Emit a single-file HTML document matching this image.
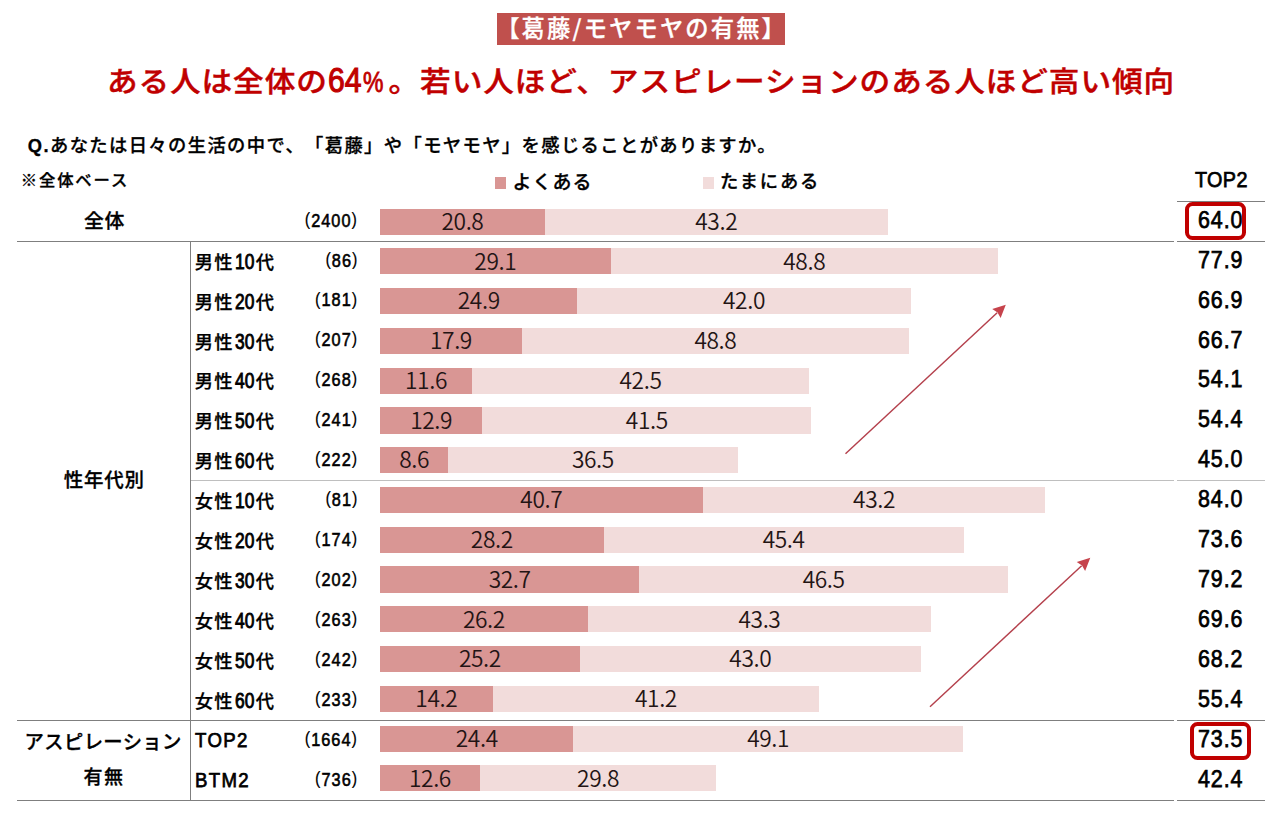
<!DOCTYPE html>
<html lang="ja"><head><meta charset="utf-8">
<style>
*{margin:0;padding:0;box-sizing:border-box}
html,body{width:1280px;height:816px;overflow:hidden;background:#fff}
body{position:relative;font-family:"Liberation Sans","Noto Sans CJK JP",sans-serif;color:#000}
div{position:absolute;white-space:nowrap}
.tx{line-height:1;font-weight:700;font-family:"Liberation Sans","Noto Sans CJK JP",sans-serif;text-spacing-trim:space-all}
.lat{font-family:"Liberation Sans","Noto Sans CJK JP",sans-serif}
.tbox{left:497px;top:13.3px;width:288.3px;height:31.3px;background:#c0504d}
.bd{height:26.2px;background:#d99694}
.bl{height:26.2px;background:#f2dcdb}
.v{text-align:center;font-family:'Noto Sans CJK JP',sans-serif;font-weight:350;font-size:22.74px;letter-spacing:-0.387px;color:#231414;transform-origin:50% 0;padding-left:0.00px}
.nm{font-family:'Liberation Sans','Noto Sans CJK JP',sans-serif;font-weight:500;-webkit-text-stroke-width:0.25px;font-size:18.3px;letter-spacing:1.020px;}
.nmE{font-family:'Liberation Sans',sans-serif;font-weight:400;-webkit-text-stroke:0.75px #000;font-size:20.7px;letter-spacing:1.490px;transform:scale(0.9,1.0);transform-origin:0 0;}
.n{text-align:right;font-family:'Liberation Sans',sans-serif;font-weight:400;-webkit-text-stroke:0.6px #000;font-size:18.94px;letter-spacing:1.210px;transform:scale(0.86,1.0);transform-origin:0 0;transform-origin:100% 0}
.p{position:relative;top:-0.1em;-webkit-text-stroke-width:0.15px}
.hd{display:inline-block;font-weight:400;-webkit-text-stroke-width:1.2px;font-size:1.2em;line-height:0;letter-spacing:0;transform:scaleX(0.82);transform-origin:0 0;margin-right:-0.2em}
.pc{display:inline-block;font-weight:400;-webkit-text-stroke-width:0.9px;line-height:0;letter-spacing:0;transform:scaleX(0.75);transform-origin:0 0;margin-left:0.05em;margin-right:-0.05em}
.dg{display:inline-block;font-weight:400;-webkit-text-stroke-width:0.9px;font-size:1.19em;line-height:0;letter-spacing:0;transform:scaleX(0.8);transform-origin:0 0;margin-left:0.09em;margin-right:-0.18em}
.lb{font-weight:700}
.jf{font-family:'Noto Sans CJK JP',sans-serif}
.t{font-family:'Liberation Sans',sans-serif;font-weight:400;-webkit-text-stroke:0.75px #000;font-size:24.65px;letter-spacing:1.060px;transform:scale(0.87,1.0);transform-origin:0 0;}
.hl{height:1px;background:#7f7f7f}

</style></head><body>
<div class="tbox"></div>
<div style="left:495.2px;top:177.2px;width:11px;height:11.8px;background:#d99694"></div>
<div style="left:703px;top:177.2px;width:11px;height:11.8px;background:#f2dcdb"></div>
<div class="bd" style="left:380.00px;top:208.50px;width:164.94px"></div>
<div class="bl" style="left:544.94px;top:208.50px;width:342.58px"></div>
<div class="bd" style="left:380.00px;top:248.27px;width:230.76px"></div>
<div class="bl" style="left:610.76px;top:248.27px;width:386.98px"></div>
<div class="bd" style="left:380.00px;top:288.04px;width:197.46px"></div>
<div class="bl" style="left:577.46px;top:288.04px;width:333.06px"></div>
<div class="bd" style="left:380.00px;top:327.81px;width:141.95px"></div>
<div class="bl" style="left:521.95px;top:327.81px;width:386.98px"></div>
<div class="bd" style="left:380.00px;top:367.58px;width:91.99px"></div>
<div class="bl" style="left:471.99px;top:367.58px;width:337.02px"></div>
<div class="bd" style="left:380.00px;top:407.35px;width:102.30px"></div>
<div class="bl" style="left:482.30px;top:407.35px;width:329.09px"></div>
<div class="bd" style="left:380.00px;top:447.12px;width:68.20px"></div>
<div class="bl" style="left:448.20px;top:447.12px;width:289.44px"></div>
<div class="bd" style="left:380.00px;top:486.89px;width:322.75px"></div>
<div class="bl" style="left:702.75px;top:486.89px;width:342.58px"></div>
<div class="bd" style="left:380.00px;top:526.66px;width:223.63px"></div>
<div class="bl" style="left:603.63px;top:526.66px;width:360.02px"></div>
<div class="bd" style="left:380.00px;top:566.43px;width:259.31px"></div>
<div class="bl" style="left:639.31px;top:566.43px;width:368.75px"></div>
<div class="bd" style="left:380.00px;top:606.20px;width:207.77px"></div>
<div class="bl" style="left:587.77px;top:606.20px;width:343.37px"></div>
<div class="bd" style="left:380.00px;top:645.97px;width:199.84px"></div>
<div class="bl" style="left:579.84px;top:645.97px;width:340.99px"></div>
<div class="bd" style="left:380.00px;top:685.74px;width:112.61px"></div>
<div class="bl" style="left:492.61px;top:685.74px;width:326.72px"></div>
<div class="bd" style="left:380.00px;top:725.51px;width:193.49px"></div>
<div class="bl" style="left:573.49px;top:725.51px;width:389.36px"></div>
<div class="bd" style="left:380.00px;top:765.28px;width:99.92px"></div>
<div class="bl" style="left:479.92px;top:765.28px;width:236.31px"></div>
<div class="tx " style="left:496.16px;top:16.24px;font-family:'Liberation Sans','Noto Sans CJK JP',sans-serif;font-weight:500;-webkit-text-stroke-width:0.3px;font-size:23.3px;letter-spacing:2.125px;color:#fff;">【葛藤<span class=jf>/</span>モヤモヤの有無】</div>
<div class="tx " style="left:106.94px;top:68.07px;font-family:'Liberation Sans','Noto Sans CJK JP',sans-serif;font-weight:500;-webkit-text-stroke-width:0.45px;font-size:30.63px;letter-spacing:0.921px;transform:scale(1.0,0.935);transform-origin:0 0;color:#c00000;">ある人は全体の<span class=hd>64</span><span class=pc>%</span>。若い人ほど、アスピレーションのある人ほど高い傾向</div>
<div class="tx " style="left:27.85px;top:137.40px;font-family:'Liberation Sans','Noto Sans CJK JP',sans-serif;font-weight:500;-webkit-text-stroke-width:0.3px;font-size:18.3px;letter-spacing:1.399px;"><span class=lb>Q.</span>あなたは日々の生活の中で、「葛藤」や「モヤモヤ」を感じることがありますか。</div>
<div class="tx " style="left:20.71px;top:171.92px;font-family:'Liberation Sans','Noto Sans CJK JP',sans-serif;font-weight:500;-webkit-text-stroke-width:0.3px;font-size:16.38px;letter-spacing:1.860px;">※全体ベース</div>
<div class="tx " style="left:512.49px;top:173.08px;font-family:'Liberation Sans','Noto Sans CJK JP',sans-serif;font-weight:500;-webkit-text-stroke-width:0.3px;font-size:18.98px;letter-spacing:1.033px;">よくある</div>
<div class="tx " style="left:720.09px;top:173.07px;font-family:'Liberation Sans','Noto Sans CJK JP',sans-serif;font-weight:500;-webkit-text-stroke-width:0.3px;font-size:18.28px;letter-spacing:1.870px;">たまにある</div>
<div class="tx " style="left:1194.98px;top:169.12px;font-family:'Liberation Sans',sans-serif;font-weight:400;-webkit-text-stroke:0.75px #000;font-size:21.97px;letter-spacing:0.403px;transform:scale(0.9,1.0);transform-origin:0 0;">TOP2</div>
<div class="tx " style="left:84.02px;top:212.22px;font-family:'Liberation Sans','Noto Sans CJK JP',sans-serif;font-weight:500;-webkit-text-stroke-width:0.3px;font-size:19.89px;letter-spacing:0.550px;">全体</div>
<div class="tx " style="left:63.65px;top:470.76px;font-family:'Liberation Sans','Noto Sans CJK JP',sans-serif;font-weight:500;-webkit-text-stroke-width:0.3px;font-size:19.47px;letter-spacing:0.827px;">性年代別</div>
<div class="tx " style="left:24.60px;top:733.22px;font-family:'Liberation Sans','Noto Sans CJK JP',sans-serif;font-weight:500;-webkit-text-stroke-width:0.3px;font-size:19.33px;letter-spacing:0.364px;">アスピレーション</div>
<div class="tx " style="left:83.51px;top:767.64px;font-family:'Liberation Sans','Noto Sans CJK JP',sans-serif;font-weight:500;-webkit-text-stroke-width:0.3px;font-size:19.04px;letter-spacing:1.560px;">有無</div>
<div class="tx v" style="left:380.00px;top:209.82px;width:164.94px;">20.8</div>
<div class="tx v" style="left:544.94px;top:209.82px;width:342.58px;">43.2</div>
<div class="tx n" style="top:211.58px;right:921.65px;"><span class=p>(</span>2400<span class=p>)</span></div>
<div class="tx t" style="left:1197.68px;top:207.75px;">64.0</div>
<div class="tx v" style="left:380.00px;top:249.59px;width:230.76px;">29.1</div>
<div class="tx v" style="left:610.76px;top:249.59px;width:386.98px;">48.8</div>
<div class="tx nm" style="left:194.85px;top:253.68px;">男性<span class=dg>10</span>代</div>
<div class="tx n" style="top:251.51px;right:921.65px;"><span class=p>(</span>86<span class=p>)</span></div>
<div class="tx t" style="left:1197.68px;top:247.68px;">77.9</div>
<div class="tx v" style="left:380.00px;top:289.36px;width:197.46px;">24.9</div>
<div class="tx v" style="left:577.46px;top:289.36px;width:333.06px;">42.0</div>
<div class="tx nm" style="left:194.85px;top:293.61px;">男性<span class=dg>20</span>代</div>
<div class="tx n" style="top:291.44px;right:921.65px;"><span class=p>(</span>181<span class=p>)</span></div>
<div class="tx t" style="left:1197.68px;top:287.61px;">66.9</div>
<div class="tx v" style="left:380.00px;top:329.13px;width:141.95px;">17.9</div>
<div class="tx v" style="left:521.95px;top:329.13px;width:386.98px;">48.8</div>
<div class="tx nm" style="left:194.85px;top:333.54px;">男性<span class=dg>30</span>代</div>
<div class="tx n" style="top:331.37px;right:921.65px;"><span class=p>(</span>207<span class=p>)</span></div>
<div class="tx t" style="left:1197.68px;top:327.54px;">66.7</div>
<div class="tx v" style="left:380.00px;top:368.90px;width:91.99px;">11.6</div>
<div class="tx v" style="left:471.99px;top:368.90px;width:337.02px;">42.5</div>
<div class="tx nm" style="left:194.85px;top:373.47px;">男性<span class=dg>40</span>代</div>
<div class="tx n" style="top:371.30px;right:921.65px;"><span class=p>(</span>268<span class=p>)</span></div>
<div class="tx t" style="left:1197.68px;top:367.47px;">54.1</div>
<div class="tx v" style="left:380.00px;top:408.67px;width:102.30px;">12.9</div>
<div class="tx v" style="left:482.30px;top:408.67px;width:329.09px;">41.5</div>
<div class="tx nm" style="left:194.85px;top:413.40px;">男性<span class=dg>50</span>代</div>
<div class="tx n" style="top:411.23px;right:921.65px;"><span class=p>(</span>241<span class=p>)</span></div>
<div class="tx t" style="left:1197.68px;top:407.40px;">54.4</div>
<div class="tx v" style="left:380.00px;top:448.44px;width:68.20px;">8.6</div>
<div class="tx v" style="left:448.20px;top:448.44px;width:289.44px;">36.5</div>
<div class="tx nm" style="left:194.85px;top:453.33px;">男性<span class=dg>60</span>代</div>
<div class="tx n" style="top:451.16px;right:921.65px;"><span class=p>(</span>222<span class=p>)</span></div>
<div class="tx t" style="left:1197.68px;top:447.33px;">45.0</div>
<div class="tx v" style="left:380.00px;top:488.21px;width:322.75px;">40.7</div>
<div class="tx v" style="left:702.75px;top:488.21px;width:342.58px;">43.2</div>
<div class="tx nm" style="left:194.85px;top:493.26px;">女性<span class=dg>10</span>代</div>
<div class="tx n" style="top:491.09px;right:921.65px;"><span class=p>(</span>81<span class=p>)</span></div>
<div class="tx t" style="left:1197.68px;top:487.26px;">84.0</div>
<div class="tx v" style="left:380.00px;top:527.98px;width:223.63px;">28.2</div>
<div class="tx v" style="left:603.63px;top:527.98px;width:360.02px;">45.4</div>
<div class="tx nm" style="left:194.85px;top:533.19px;">女性<span class=dg>20</span>代</div>
<div class="tx n" style="top:531.02px;right:921.65px;"><span class=p>(</span>174<span class=p>)</span></div>
<div class="tx t" style="left:1197.68px;top:527.19px;">73.6</div>
<div class="tx v" style="left:380.00px;top:567.75px;width:259.31px;">32.7</div>
<div class="tx v" style="left:639.31px;top:567.75px;width:368.75px;">46.5</div>
<div class="tx nm" style="left:194.85px;top:573.12px;">女性<span class=dg>30</span>代</div>
<div class="tx n" style="top:570.95px;right:921.65px;"><span class=p>(</span>202<span class=p>)</span></div>
<div class="tx t" style="left:1197.68px;top:567.12px;">79.2</div>
<div class="tx v" style="left:380.00px;top:607.52px;width:207.77px;">26.2</div>
<div class="tx v" style="left:587.77px;top:607.52px;width:343.37px;">43.3</div>
<div class="tx nm" style="left:194.85px;top:613.05px;">女性<span class=dg>40</span>代</div>
<div class="tx n" style="top:610.88px;right:921.65px;"><span class=p>(</span>263<span class=p>)</span></div>
<div class="tx t" style="left:1197.68px;top:607.05px;">69.6</div>
<div class="tx v" style="left:380.00px;top:647.29px;width:199.84px;">25.2</div>
<div class="tx v" style="left:579.84px;top:647.29px;width:340.99px;">43.0</div>
<div class="tx nm" style="left:194.85px;top:652.98px;">女性<span class=dg>50</span>代</div>
<div class="tx n" style="top:650.81px;right:921.65px;"><span class=p>(</span>242<span class=p>)</span></div>
<div class="tx t" style="left:1197.68px;top:646.98px;">68.2</div>
<div class="tx v" style="left:380.00px;top:687.06px;width:112.61px;">14.2</div>
<div class="tx v" style="left:492.61px;top:687.06px;width:326.72px;">41.2</div>
<div class="tx nm" style="left:194.85px;top:692.91px;">女性<span class=dg>60</span>代</div>
<div class="tx n" style="top:690.74px;right:921.65px;"><span class=p>(</span>233<span class=p>)</span></div>
<div class="tx t" style="left:1197.68px;top:686.91px;">55.4</div>
<div class="tx v" style="left:380.00px;top:726.83px;width:193.49px;">24.4</div>
<div class="tx v" style="left:573.49px;top:726.83px;width:389.36px;">49.1</div>
<div class="tx nmE" style="left:195.09px;top:729.85px;">TOP2</div>
<div class="tx n" style="top:730.67px;right:921.65px;"><span class=p>(</span>1664<span class=p>)</span></div>
<div class="tx t" style="left:1197.68px;top:726.84px;">73.5</div>
<div class="tx v" style="left:380.00px;top:766.60px;width:99.92px;">12.6</div>
<div class="tx v" style="left:479.92px;top:766.60px;width:236.31px;">29.8</div>
<div class="tx nmE" style="left:195.09px;top:769.78px;">BTM2</div>
<div class="tx n" style="top:770.60px;right:921.65px;"><span class=p>(</span>736<span class=p>)</span></div>
<div class="tx t" style="left:1197.68px;top:766.77px;">42.4</div>
<div class="hl" style="left:17px;width:1157px;top:240.5px"></div>
<div class="hl" style="left:1177px;width:88px;top:240.5px"></div>
<div class="hl" style="left:1177px;width:88px;top:201px"></div>
<div class="hl" style="left:190px;width:984px;top:480px;background:#bfbfbf"></div>
<div class="hl" style="left:1177px;width:88px;top:480px;background:#bfbfbf"></div>
<div class="hl" style="left:17px;width:1157px;top:719.5px"></div>
<div class="hl" style="left:1177px;width:88px;top:719.5px"></div>
<div class="hl" style="left:17px;width:1157px;top:799.5px"></div>
<div class="hl" style="left:1177px;width:88px;top:799.5px"></div>
<div style="left:189.5px;top:241px;width:1px;height:559px;background:#7f7f7f"></div>
<div style="left:1185.2px;top:201.7px;width:61px;height:38.3px;border:4px solid #c00000;border-radius:7.5px"></div>
<div style="left:1190.2px;top:722px;width:60.8px;height:37.7px;border:4px solid #c00000;border-radius:7.5px"></div>
<svg style="position:absolute;left:0;top:0" width="1280" height="816">
<line x1="845.5" y1="453.8" x2="997.16" y2="312.83" stroke="#b4404c" stroke-width="1.45"/>
<path d="M1005.8,304.8 L1000.61,318.02 L997.52,312.49 L992.24,309.01 Z" fill="#c6434c"/>
<line x1="930.0" y1="706.7" x2="1081.66" y2="565.73" stroke="#b4404c" stroke-width="1.45"/>
<path d="M1090.3,557.7 L1085.11,570.92 L1082.02,565.39 L1076.74,561.91 Z" fill="#c6434c"/>
</svg>
</body></html>
